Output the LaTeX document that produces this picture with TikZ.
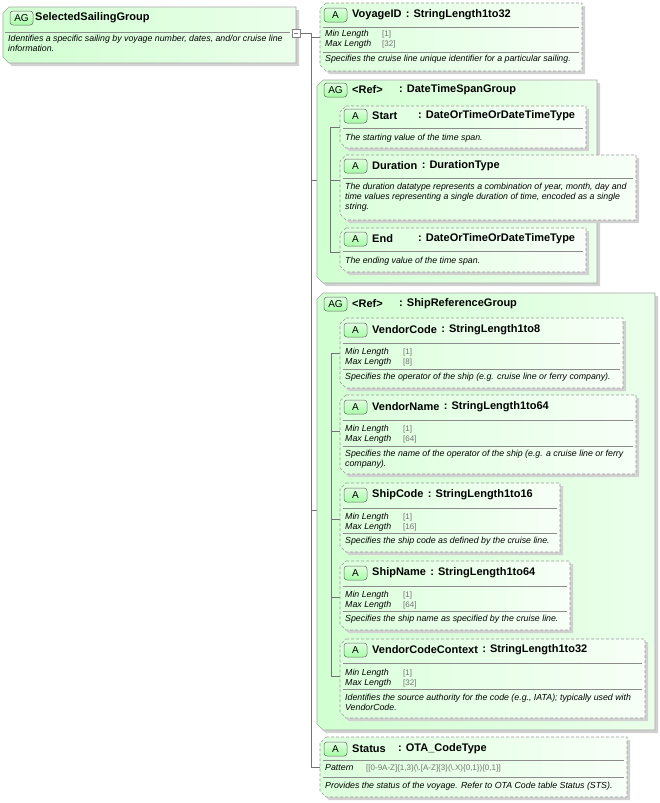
\documentclass[tikz,border=0pt]{standalone}
\usepackage{fontspec}
\setmainfont{Liberation Sans}
\begin{document}
\begin{tikzpicture}[x=1pt,y=-1pt,
  ttl/.style={font=\fontsize{11}{13}\selectfont\bfseries,anchor=west,inner sep=0},
  sm/.style={font=\fontsize{8.8}{10}\selectfont\itshape,anchor=west,inner sep=0,align=left},
  smv/.style={font=\fontsize{8}{9}\selectfont,anchor=west,inner sep=0,text=black!55},
  sep/.style={draw=black!45,line width=0.5pt},
  conn/.style={draw=black!55,line width=0.5pt},
  badge/.style={draw=black!60,top color=green!12,bottom color=green!35,rounded corners=3pt,line width=0.5pt}]
\useasboundingbox (0,0) rectangle (659,803);
\fill[white] (0,0) rectangle (659,803);
\newcommand\chshape[4]{(#1+6,#2) -- (#3,#2) -- (#3,#4) -- (#1+6,#4) -- (#1,#4-6) -- (#1,#2+6) -- cycle}
\newcommand\attrbox[5]{%
  \fill[black!18] \chshape{#1+3}{#2+3}{#3+3}{#4+3};
  \shade[left color=green!14,right color=green!3] \chshape{#1}{#2}{#3}{#4};
  \draw[black!40,dashed,dash pattern=on 3pt off 2pt,line width=0.6pt] \chshape{#1}{#2}{#3}{#4};
  \draw[sep] (#1+3,#5) -- (#3-3,#5);}
\newcommand\grpbox[4]{%
  \fill[black!18] \chshape{#1+3}{#2+3}{#3+3}{#4+3};
  \shade[left color=green!18,right color=green!8] \chshape{#1}{#2}{#3}{#4};
  \draw[black!35,line width=0.6pt] \chshape{#1}{#2}{#3}{#4};}
\newcommand\badgeA[2]{\draw[badge] (#1+4,#2-7) rectangle (#1+27,#2+7); \node[font=\fontsize{10}{11}\selectfont,inner sep=0] at (#1+15.5,#2) {A};}
\newcommand\badgeAG[2]{\draw[badge] (#1+4,#2-7) rectangle (#1+27,#2+7); \node[font=\fontsize{10}{11}\selectfont,inner sep=0] at (#1+15.5,#2) {AG};}

% connectors
\coordinate (mtop) at (311,33);
\coordinate (mbot) at (311,767);
\draw[conn] (300,33) -- (mtop) -- (mbot) -- (320,767);
\draw[conn] (311,37) -- (320,37);
\draw[conn] (311,180) -- (317,180);
\draw[conn] (311,510) -- (317,510);

% main group
\grpbox{3}{7}{296}{63}
\draw[sep] (5,32) -- (290,32);
\badgeAG{6}{18}
\node[ttl] (sg) at (35,18) {SelectedSailingGroup};
\node[sm] (sgd) at (8,43) {Identifies a specific sailing by voyage number, dates, and/or cruise line\\information.};
\draw[black!50,fill=white,line width=0.5pt] (292,29) rectangle (300,37);
\draw[black!50,line width=0.5pt] (294,33) -- (298,33);

% VoyageID
\attrbox{320}{3}{582}{71}{27}
\badgeA{320}{15}
\node[ttl] (v) at (352,15) {VoyageID};
\node[ttl] (vt) at ([xshift=4pt]v.east) {: StringLength1to32};
\node[sm] at (325,34) {Min Length}; \node[smv] at (382,34) {[1]};
\node[sm] at (325,44) {Max Length}; \node[smv] at (382,44) {[32]};
\draw[sep] (323,52) -- (579,52);
\node[sm] at (325,59) {Specifies the cruise line unique identifier for a particular sailing.};

% DateTimeSpan group
\grpbox{317}{80}{597}{283}
\badgeAG{320}{90}
\node[ttl] (dg) at (352,90) {<Ref>};
\node[ttl] (dgt) at (399,90) {: DateTimeSpanGroup};
\draw[conn] (330,127) -- (330,252);
\draw[conn] (330,127) -- (340,127);
\draw[conn] (330,180) -- (340,180);
\draw[conn] (330,252) -- (340,252);

\attrbox{340}{106}{586}{148}{128}
\badgeA{340}{116}
\node[ttl] (st) at (372,116) {Start};
\node[ttl] at (418,116) {: DateOrTimeOrDateTimeType};
\node[sm] at (345,138) {The starting value of the time span.};

\attrbox{340}{155}{636}{220}{178}
\badgeA{340}{166}
\node[ttl] (du) at (372,166) {Duration};
\node[ttl] at ([xshift=4pt]du.east) {: DurationType};
\node[sm] at (345,197) {The duration datatype represents a combination of year, month, day and\\time values representing a single duration of time, encoded as a single\\string.};

\attrbox{340}{228}{586}{272}{251}
\badgeA{340}{239}
\node[ttl] (en) at (372,239) {End};
\node[ttl] at (418,239) {: DateOrTimeOrDateTimeType};
\node[sm] at (345,261) {The ending value of the time span.};

% Ship group
\grpbox{317}{293}{655}{730}
\badgeAG{320}{304}
\node[ttl] (sh) at (352,304) {<Ref>};
\node[ttl] at (399,304) {: ShipReferenceGroup};
\draw[conn] (331,353) -- (331,676);
\foreach \yy in {353,431,519,597,676} \draw[conn] (331,\yy) -- (340,\yy);

\attrbox{340}{318}{623}{388}{343}
\badgeA{340}{330}
\node[ttl] (vc) at (372,330) {VendorCode};
\node[ttl] at ([xshift=4pt]vc.east) {: StringLength1to8};
\node[sm] at (345,352) {Min Length}; \node[smv] at (403,352) {[1]};
\node[sm] at (345,362) {Max Length}; \node[smv] at (403,362) {[8]};
\draw[sep] (343,369) -- (620,369);
\node[sm] at (345,377) {Specifies the operator of the ship (e.g. cruise line or ferry company).};

\attrbox{340}{395}{636}{474}{420}
\badgeA{340}{407}
\node[ttl] (vn) at (372,407) {VendorName};
\node[ttl] at ([xshift=4pt]vn.east) {: StringLength1to64};
\node[sm] at (345,429) {Min Length}; \node[smv] at (403,429) {[1]};
\node[sm] at (345,439) {Max Length}; \node[smv] at (403,439) {[64]};
\draw[sep] (343,446) -- (633,446);
\node[sm] at (345,459) {Specifies the name of the operator of the ship (e.g. a cruise line or ferry\\company).};

\attrbox{340}{483}{560}{552}{508}
\badgeA{340}{495}
\node[ttl] (sc) at (372,495) {ShipCode};
\node[ttl] at ([xshift=4pt]sc.east) {: StringLength1to16};
\node[sm] at (345,517) {Min Length}; \node[smv] at (403,517) {[1]};
\node[sm] at (345,527) {Max Length}; \node[smv] at (403,527) {[16]};
\draw[sep] (343,533) -- (557,533);
\node[sm] at (345,541) {Specifies the ship code as defined by the cruise line.};

\attrbox{340}{561}{570}{630}{586}
\badgeA{340}{573}
\node[ttl] (sn) at (372,573) {ShipName};
\node[ttl] at ([xshift=4pt]sn.east) {: StringLength1to64};
\node[sm] at (345,595) {Min Length}; \node[smv] at (403,595) {[1]};
\node[sm] at (345,605) {Max Length}; \node[smv] at (403,605) {[64]};
\draw[sep] (343,611) -- (567,611);
\node[sm] at (345,619) {Specifies the ship name as specified by the cruise line.};

\attrbox{340}{639}{645}{718}{663}
\badgeA{340}{650}
\node[ttl] (vx) at (372,650) {VendorCodeContext};
\node[ttl] at ([xshift=4pt]vx.east) {: StringLength1to32};
\node[sm] at (345,673) {Min Length}; \node[smv] at (403,673) {[1]};
\node[sm] at (345,683) {Max Length}; \node[smv] at (403,683) {[32]};
\draw[sep] (343,689) -- (642,689);
\node[sm] at (345,702) {Identifies the source authority for the code (e.g., IATA); typically used with\\VendorCode.};

% Status
\attrbox{320}{737}{627}{797}{760}
\badgeA{320}{749}
\node[ttl] (sta) at (352,749) {Status};
\node[ttl] at (398,749) {: OTA\_CodeType};
\node[sm] at (325,768) {Pattern};
\node[smv] at (366,768) {[[0-9A-Z]\{1,3\}(\textbackslash.[A-Z]\{3\}(\textbackslash.X)\{0,1\})\{0,1\}]};
\draw[sep] (323,777) -- (624,777);
\node[sm] at (325,786) {Provides the status of the voyage. Refer to OTA Code table Status (STS).};
\end{tikzpicture}
\end{document}
